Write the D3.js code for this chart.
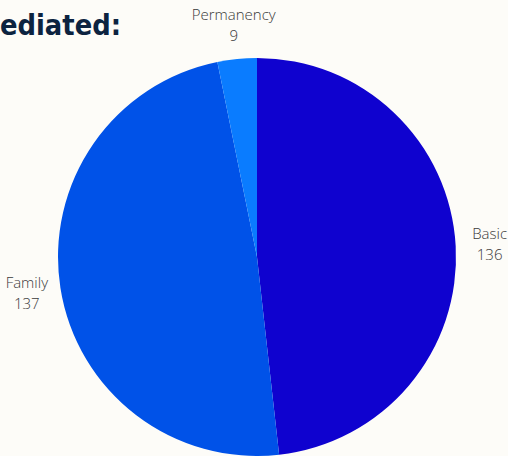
<!DOCTYPE html>
<html>
<head>
<meta charset="utf-8">
<script src="https://cdn.jsdelivr.net/npm/d3@7"></script>
<style>
  html, body { margin: 0; padding: 0; background: #fdfcf8; }
  svg { display: block; }
</style>
</head>
<body>
<svg id="chart" width="508" height="456"></svg>
<script>
const categories = ["Basic", "Family", "Permanency"]
const values = [136, 137, 9]
const colors = ["#0f02cf", "#0052e8", "#0a7cff"]

const svg = d3.select("#chart")
const cx = 257, cy = 257, r = 199, labelR = 233

// title, cut off at the left edge like the original
svg.append("text")
    .attr("x", 0)
    .attr("y", 35)
    .attr("textLength", 121)
    .attr("lengthAdjust", "spacingAndGlyphs")
    .style("font-family", "'DejaVu Sans', sans-serif")
    .style("font-weight", "bold")
    .style("font-size", "28px")
    .style("fill", "#0c2340")
    .text("ediated:")

const pie = d3.pie().sort(null).value(d => d.value)
const arc = d3.arc().innerRadius(0).outerRadius(r)
const labelArc = d3.arc().innerRadius(labelR).outerRadius(labelR)

const data = categories.map((c, i) => ({ name: c, value: values[i], color: colors[i] }))

const g = svg.append("g").attr("transform", `translate(${cx},${cy})`)

g.selectAll(".slice")
    .data(pie(data))
    .join("path")
    .attr("class", "slice")
    .attr("d", arc)
    .attr("fill", d => d.data.color)

const labels = g.selectAll(".label")
    .data(pie(data))
    .join("text")
    .attr("class", "label")
    .attr("transform", d => `translate(${labelArc.centroid(d)})`)
    .attr("text-anchor", "middle")
    .style("font-family", "'Open Sans', sans-serif")
    .style("font-size", "15px")
    .style("font-weight", 300)
    .style("fill", "#3a3a3a")

labels.append("tspan")
    .attr("x", 0)
    .attr("y", -5)
    .text(d => d.data.name)

labels.append("tspan")
    .attr("x", 0)
    .attr("y", 16)
    .text(d => d.data.value)
</script>
</body>
</html>
